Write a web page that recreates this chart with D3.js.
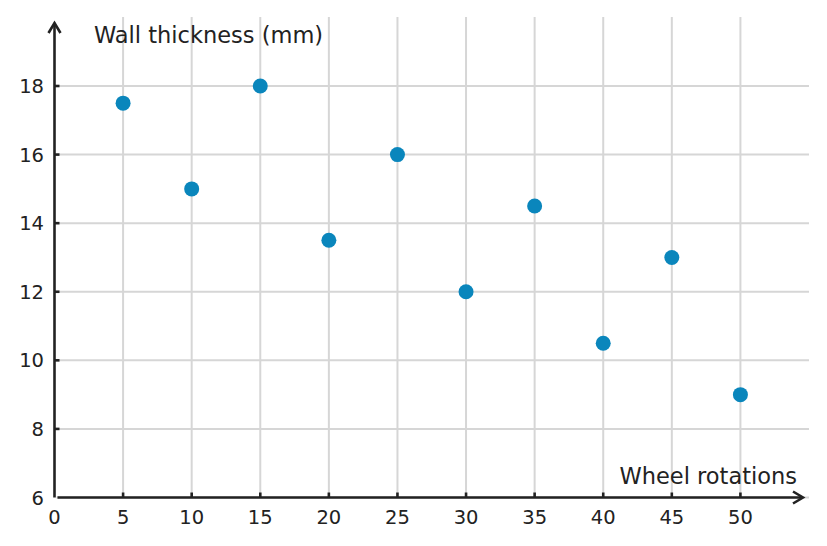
<!DOCTYPE html>
<html>
<head>
<meta charset="utf-8">
<script src="https://cdn.jsdelivr.net/npm/d3@7"></script>
<style>
  html, body { margin: 0; padding: 0; background: #fff; }
  svg { display: block; font-family: "DejaVu Sans", sans-serif; }
</style>
</head>
<body>
<svg id="chart" width="827" height="546"></svg>
<script>
// Data
const rotations = [5, 10, 15, 20, 25, 30, 35, 40, 45, 50];
const thickness = [17.5, 15, 18, 13.5, 16, 12, 14.5, 10.5, 13, 9];
const xTicks = [0, 5, 10, 15, 20, 25, 30, 35, 40, 45, 50];
const yTicks = [6, 8, 10, 12, 14, 16, 18];

const svg = d3.select('#chart');

const x = d3.scaleLinear().domain([0, 55]).range([54.5, 809]);
const y = d3.scaleLinear().domain([6, 18]).range([497.5, 86]);

const gridColor = '#d6d6d6';
const axisColor = '#222';
const dotColor = '#0a86bc';

// Grid
const grid = svg.append('g');
grid.selectAll('.hgrid')
  .data(yTicks)
  .enter().append('line')
  .attr('x1', x(0) + 2).attr('x2', x(55))
  .attr('y1', d => y(d)).attr('y2', d => y(d))
  .attr('stroke', gridColor).attr('stroke-width', 2);

grid.selectAll('.vgrid')
  .data(xTicks.filter(d => d > 0))
  .enter().append('line')
  .attr('x1', d => x(d)).attr('x2', d => x(d))
  .attr('y1', 17).attr('y2', y(6))
  .attr('stroke', gridColor).attr('stroke-width', 2);

// Axes
const axes = svg.append('g').attr('stroke', axisColor).attr('stroke-width', 2.6).attr('fill', 'none');
axes.append('line').attr('x1', x(0)).attr('x2', x(0)).attr('y1', y(6)).attr('y2', 23);
axes.append('line').attr('x1', x(0) + 3).attr('x2', 803).attr('y1', y(6)).attr('y2', y(6));
axes.append('path').attr('d', `M${x(0) - 6},${33} L${x(0)},${23} L${x(0) + 6},${33}`)
  .attr('stroke-linejoin', 'miter');
axes.append('path').attr('d', `M${793},${y(6) - 6} L${803},${y(6)} L${793},${y(6) + 6}`);

// Ticks (inward)
axes.selectAll('.ytick')
  .data(yTicks.filter(d => d > 6))
  .enter().append('line')
  .attr('x1', x(0)).attr('x2', x(0) + 5)
  .attr('y1', d => y(d)).attr('y2', d => y(d));
axes.selectAll('.xtick')
  .data(xTicks.filter(d => d > 0))
  .enter().append('line')
  .attr('x1', d => x(d)).attr('x2', d => x(d))
  .attr('y1', y(6)).attr('y2', y(6) - 5);

// Tick labels
svg.append('g').selectAll('text')
  .data(yTicks)
  .enter().append('text')
  .attr('x', 44).attr('y', d => y(d))
  .attr('dy', '0.36em')
  .attr('text-anchor', 'end')
  .attr('font-size', 19.5).attr('fill', axisColor)
  .text(d => d);

svg.append('g').selectAll('text')
  .data(xTicks)
  .enter().append('text')
  .attr('x', d => x(d)).attr('y', 524)
  .attr('text-anchor', 'middle')
  .attr('font-size', 19.5).attr('fill', axisColor)
  .text(d => d);

// Axis titles
svg.append('text')
  .attr('x', 94).attr('y', 43)
  .attr('font-size', 22.5).attr('fill', axisColor)
  .text('Wall thickness (mm)');
svg.append('text')
  .attr('x', 797).attr('y', 484)
  .attr('text-anchor', 'end')
  .attr('font-size', 22.5).attr('fill', axisColor)
  .text('Wheel rotations');

// Points
svg.append('g').selectAll('circle')
  .data(rotations.map((r, i) => ({ r, t: thickness[i] })))
  .enter().append('circle')
  .attr('cx', d => x(d.r)).attr('cy', d => y(d.t))
  .attr('r', 7.5)
  .attr('fill', dotColor);
</script>
</body>
</html>
